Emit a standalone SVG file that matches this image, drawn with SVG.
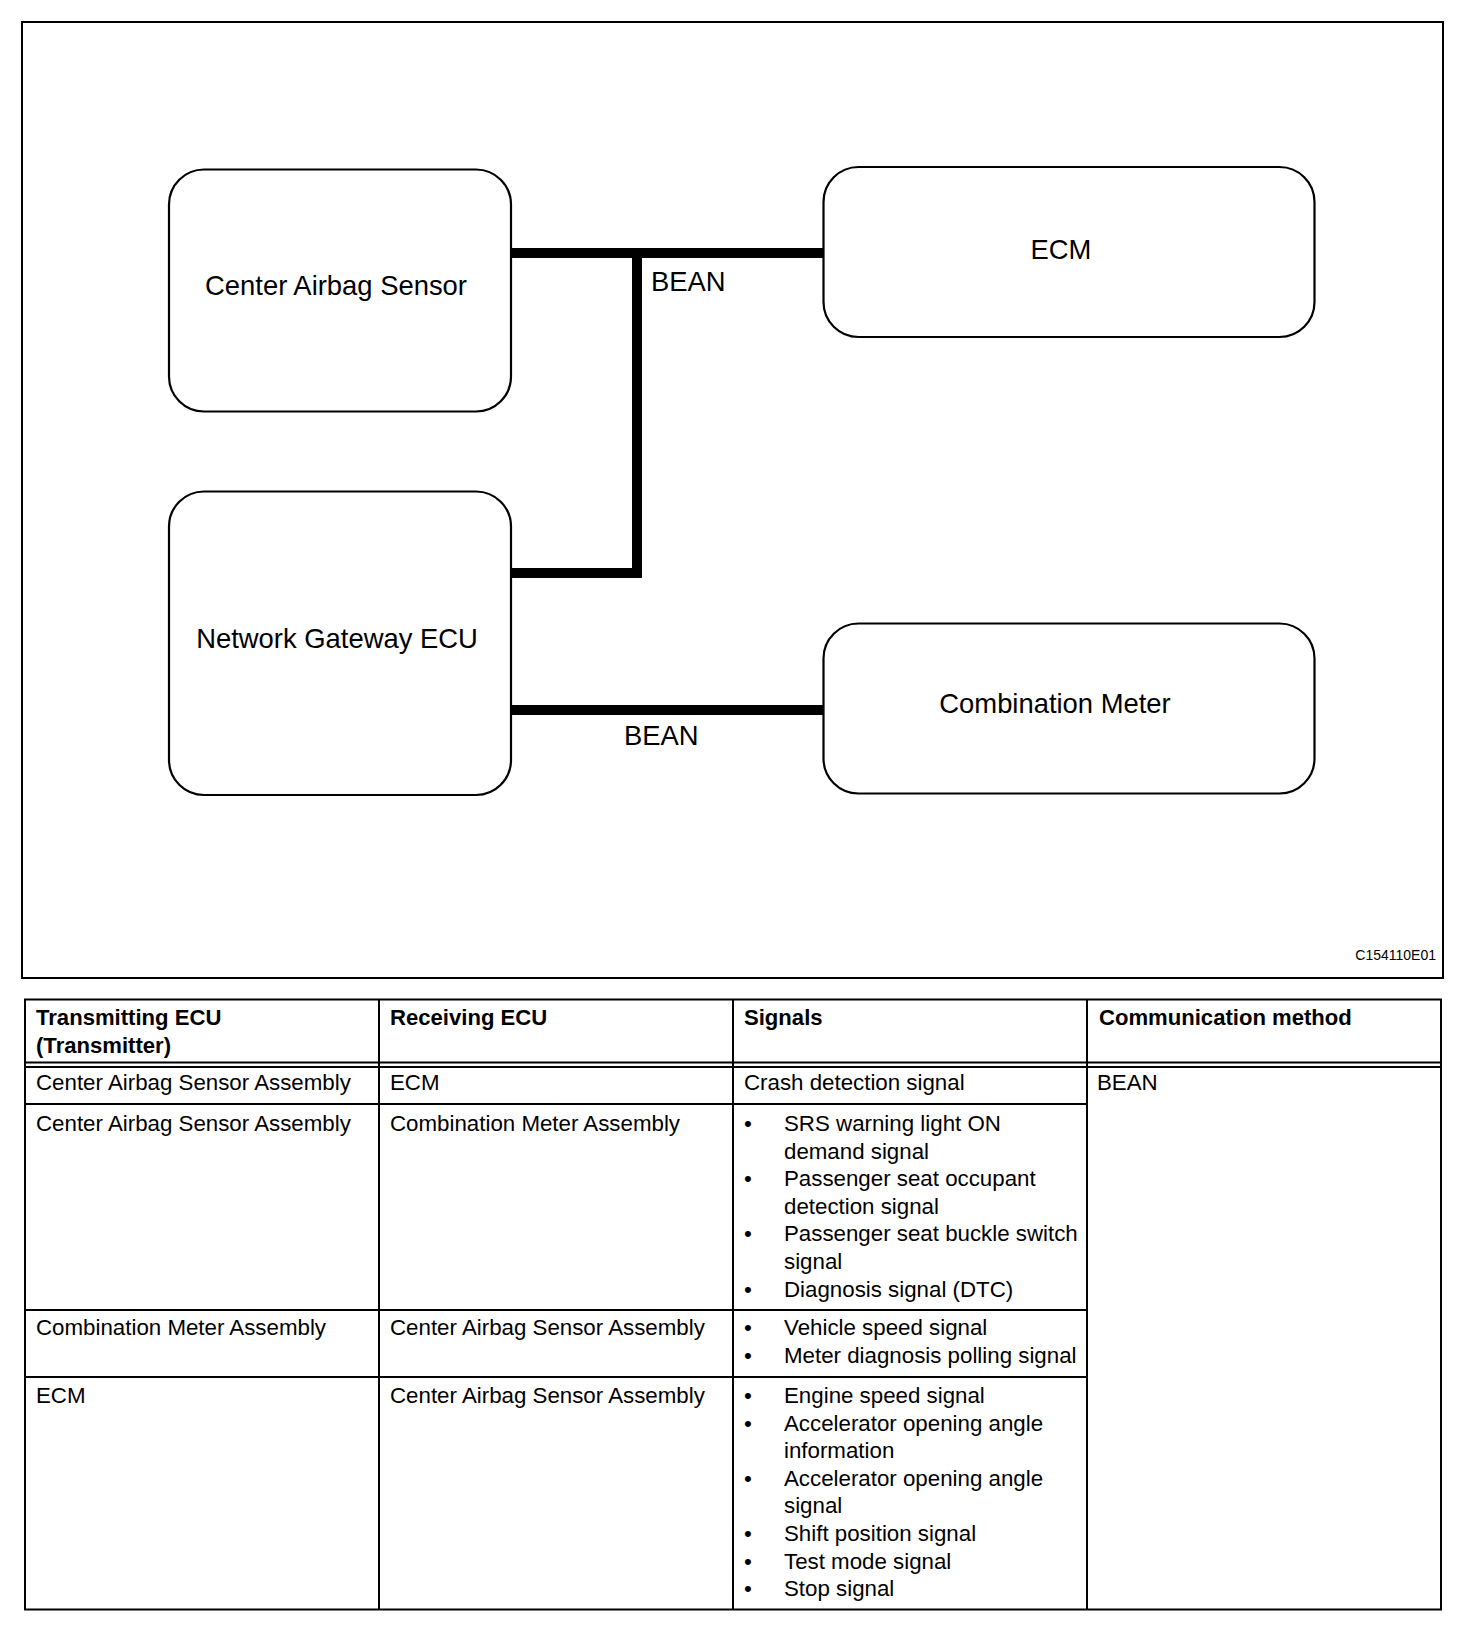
<svg xmlns="http://www.w3.org/2000/svg" width="1472" height="1630" viewBox="0 0 1472 1630">
<style>
.frame{fill:none;stroke:#000;stroke-width:2}
.node{fill:#fff;stroke:#000;stroke-width:2.2}
.bus{fill:none;stroke:#000;stroke-width:10;stroke-linejoin:miter;stroke-linecap:butt}
.lbl{font-family:"Liberation Sans",Arial,sans-serif;font-size:27.4px;fill:#000}
.cap{font-family:"Liberation Sans",Arial,sans-serif;font-size:14px;fill:#000}
.grid{stroke:#000;stroke-width:2;fill:none}
.th{font-family:"Liberation Sans",Arial,sans-serif;font-size:22.1px;font-weight:bold;fill:#000}
.td{font-family:"Liberation Sans",Arial,sans-serif;font-size:22.3px;fill:#000}
</style>
<rect width="1472" height="1630" fill="#fff"/>
<rect class="frame" x="22" y="22" width="1421" height="956"/>

<g id="connectors">
  <path class="bus" d="M511 253 H823.5"/>
  <path class="bus" d="M511 573 H637 V253"/>
  <path class="bus" d="M511 710 H823.5"/>
  <text class="lbl" x="651" y="291">BEAN</text>
  <text class="lbl" x="624" y="745">BEAN</text>
</g>

<g id="center-airbag-sensor">
  <rect class="node" x="169" y="169.5" width="342" height="242" rx="35" ry="35"/>
  <text class="lbl" x="336" y="295" text-anchor="middle">Center Airbag Sensor</text>
</g>
<g id="network-gateway-ecu">
  <rect class="node" x="169" y="491.5" width="342" height="303.5" rx="35" ry="35"/>
  <text class="lbl" x="337" y="648" text-anchor="middle">Network Gateway ECU</text>
</g>
<g id="ecm">
  <rect class="node" x="823.5" y="167" width="491" height="170" rx="35" ry="35"/>
  <text class="lbl" x="1061" y="259" text-anchor="middle">ECM</text>
</g>
<g id="combination-meter">
  <rect class="node" x="823.5" y="623.5" width="491" height="170" rx="35" ry="35"/>
  <text class="lbl" x="1055" y="713" text-anchor="middle">Combination Meter</text>
</g>

<text class="cap" x="1436" y="960" text-anchor="end">C154110E01</text>

<g id="table">
  <rect class="grid" x="25" y="999.5" width="1416" height="610"/>
  <line class="grid" x1="379" y1="999.5" x2="379" y2="1609.5"/>
  <line class="grid" x1="733" y1="999.5" x2="733" y2="1609.5"/>
  <line class="grid" x1="1087" y1="999.5" x2="1087" y2="1609.5"/>
  <line class="grid" x1="25" y1="1062.5" x2="1441" y2="1062.5"/>
  <line class="grid" x1="25" y1="1067" x2="1441" y2="1067"/>
  <line class="grid" x1="25" y1="1104" x2="1087" y2="1104"/>
  <line class="grid" x1="25" y1="1310" x2="1087" y2="1310"/>
  <line class="grid" x1="25" y1="1377" x2="1087" y2="1377"/>

  <text class="th" x="36" y="1025">Transmitting ECU</text>
  <text class="th" x="36" y="1053">(Transmitter)</text>
  <text class="th" x="390" y="1025">Receiving ECU</text>
  <text class="th" x="744" y="1025">Signals</text>
  <text class="th" x="1099" y="1025">Communication method</text>

  <text class="td" x="36" y="1090">Center Airbag Sensor Assembly</text>
  <text class="td" x="390" y="1090">ECM</text>
  <text class="td" x="744" y="1090">Crash detection signal</text>
  <text class="td" x="1097" y="1090">BEAN</text>

  <text class="td" x="36" y="1131">Center Airbag Sensor Assembly</text>
  <text class="td" x="390" y="1131">Combination Meter Assembly</text>
  <text class="td" x="744" y="1131">•</text><text class="td" x="784" y="1131">SRS warning light ON</text>
  <text class="td" x="784" y="1158.6">demand signal</text>
  <text class="td" x="744" y="1186.2">•</text><text class="td" x="784" y="1186.2">Passenger seat occupant</text>
  <text class="td" x="784" y="1213.8">detection signal</text>
  <text class="td" x="744" y="1241.4">•</text><text class="td" x="784" y="1241.4">Passenger seat buckle switch</text>
  <text class="td" x="784" y="1269">signal</text>
  <text class="td" x="744" y="1296.6">•</text><text class="td" x="784" y="1296.6">Diagnosis signal (DTC)</text>

  <text class="td" x="36" y="1335">Combination Meter Assembly</text>
  <text class="td" x="390" y="1335">Center Airbag Sensor Assembly</text>
  <text class="td" x="744" y="1335">•</text><text class="td" x="784" y="1335">Vehicle speed signal</text>
  <text class="td" x="744" y="1363">•</text><text class="td" x="784" y="1363">Meter diagnosis polling signal</text>

  <text class="td" x="36" y="1403">ECM</text>
  <text class="td" x="390" y="1403">Center Airbag Sensor Assembly</text>
  <text class="td" x="744" y="1403">•</text><text class="td" x="784" y="1403">Engine speed signal</text>
  <text class="td" x="744" y="1430.6">•</text><text class="td" x="784" y="1430.6">Accelerator opening angle</text>
  <text class="td" x="784" y="1458.2">information</text>
  <text class="td" x="744" y="1485.8">•</text><text class="td" x="784" y="1485.8">Accelerator opening angle</text>
  <text class="td" x="784" y="1513.4">signal</text>
  <text class="td" x="744" y="1541">•</text><text class="td" x="784" y="1541">Shift position signal</text>
  <text class="td" x="744" y="1568.6">•</text><text class="td" x="784" y="1568.6">Test mode signal</text>
  <text class="td" x="744" y="1596.2">•</text><text class="td" x="784" y="1596.2">Stop signal</text>
</g>
</svg>
